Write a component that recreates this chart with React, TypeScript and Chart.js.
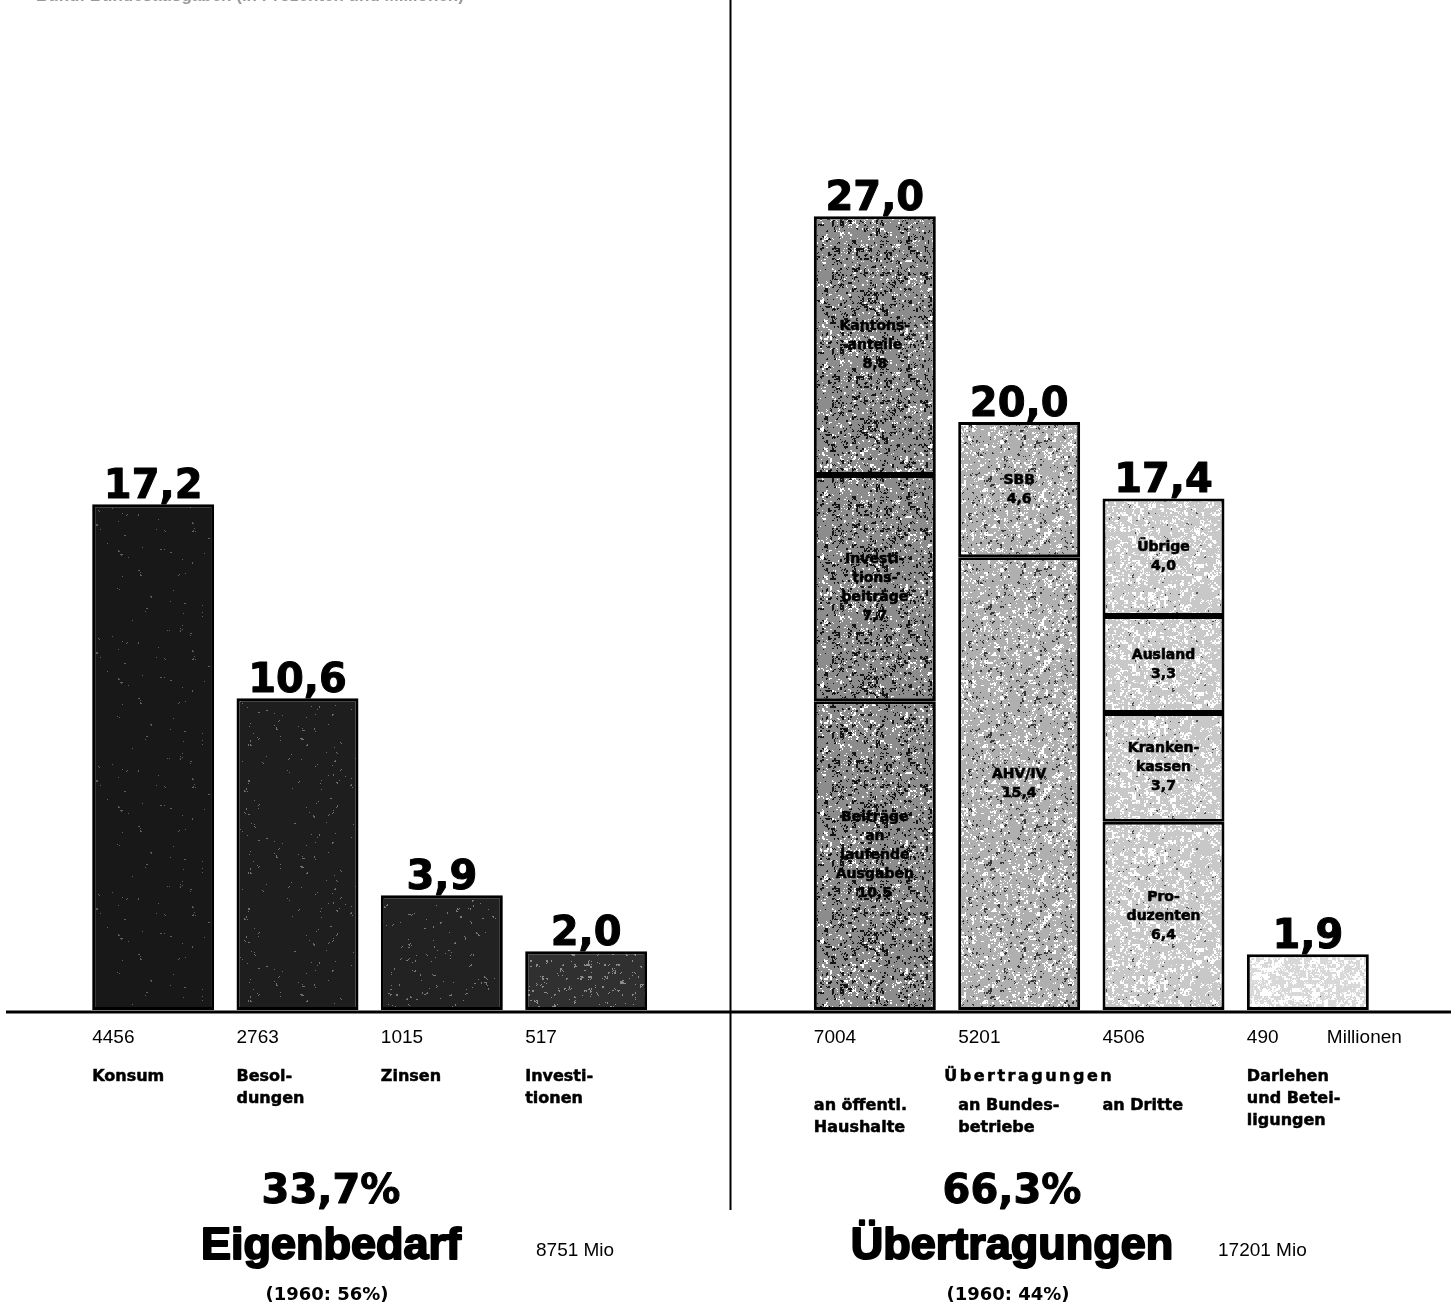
import React, { useEffect, useRef } from "react";
import { Chart, registerables } from "chart.js";

Chart.register(...registerables);

// ---- data ----
const categories = [
  "Konsum",
  "Besoldungen",
  "Zinsen",
  "Investitionen",
  "",
  "an öffentl. Haushalte",
  "an Bundesbetriebe",
  "an Dritte",
  "Darlehen und Beteiligungen",
];
const millions = ["4456", "2763", "1015", "517", "", "7004", "5201", "4506", "490"];
const categoryLines: string[][] = [
  ["Konsum"],
  ["Besol-", "dungen"],
  ["Zinsen"],
  ["Investi-", "tionen"],
  [],
  ["an öffentl.", "Haushalte"],
  ["an Bundes-", "betriebe"],
  ["an Dritte"],
  ["Darlehen", "und Betei-", "ligungen"],
];

// stacked segments, bottom to top (percent of total expenditure)
const seg1Values = [17.2, 10.6, 3.9, 2.0, null, 10.5, 15.4, 6.4, 1.9];
const seg1Names = [null, null, null, null, null, "Beiträge\nan\nlaufende\nAusgaben", "AHV/IV", "Pro-\nduzenten", null];
const seg2Values = [null, null, null, null, null, 7.7, 4.6, 3.7, null];
const seg2Names = [null, null, null, null, null, "Investi-\ntions-\nbeiträge", "SBB", "Kranken-\nkassen", null];
const seg3Values = [null, null, null, null, null, 8.8, null, 3.3, null];
const seg3Names = [null, null, null, null, null, "Kantons-\nanteile", null, "Ausland", null];
const seg4Values = [null, null, null, null, null, null, null, 4.0, null];
const seg4Names = [null, null, null, null, null, null, null, "Übrige", null];

const groupPercent = ["33,7%", "66,3%"];
const groupTitle = ["Eigenbedarf", "Übertragungen"];
const groupMio = ["8751 Mio", "17201 Mio"];
const group1960 = ["(1960: 56%)", "(1960: 44%)"];
const headerText = "Bund: Bundesausgaben (in Prozenten und Millionen)";

// ---- texture (deterministic) ----
// [base gray, dark fraction, light fraction, light gray] per category
const textures: [number, number, number, number][] = [
  [24, 0.0, 0.12, 95],
  [30, 0.0, 0.14, 110],
  [34, 0.0, 0.16, 120],
  [48, 0.0, 0.24, 140],
  [255, 0, 0, 255],
  [140, 0.3, 0.26, 255],
  [175, 0.22, 0.34, 255],
  [200, 0.13, 0.4, 255],
  [216, 0.06, 0.5, 255],
];

function hash(x: number, y: number, seed: number) {
  let h = (Math.imul(x, 374761393) + Math.imul(y, 668265263) + Math.imul(seed, 1013904223)) | 0;
  h = Math.imul(h ^ (h >>> 13), 1274126177);
  h ^= h >>> 16;
  return (h >>> 0) / 4294967296;
}

function makePattern(base: number, dark: number, light: number, lightGray: number, seed: number) {
  const size = 128;
  const c = document.createElement("canvas");
  c.width = size;
  c.height = size;
  const cx = c.getContext("2d")!;
  const img = cx.createImageData(size, size);
  for (let y = 0; y < size; y++) {
    for (let x = 0; x < size; x++) {
      const v =
        0.45 * hash(x >> 2, y >> 2, seed) +
        0.35 * hash(x >> 1, y >> 1, seed + 7) +
        0.2 * hash(x, y, seed + 13);
      let g = base;
      if (dark > 0 && v < dark) g = Math.max(0, base - 120);
      else if (v > 1 - light * 0.9) g = lightGray;
      const i = (y * size + x) * 4;
      img.data[i] = g;
      img.data[i + 1] = g;
      img.data[i + 2] = g;
      img.data[i + 3] = 255;
    }
  }
  cx.putImageData(img, 0, 0);
  return cx.createPattern(c, "repeat")!;
}

const fmt = (v: number) => v.toFixed(1).replace(".", ",");

export default function App() {
  const ref = useRef<HTMLCanvasElement>(null);

  useEffect(() => {
    const canvas = ref.current!;
    const patterns = textures.map((t, i) => makePattern(t[0], t[1], t[2], t[3], i + 3));
    const segNames = [seg1Names, seg2Names, seg3Names, seg4Names];

    const heavy = (ctx: CanvasRenderingContext2D, s: string, x: number, y: number, w: number) => {
      ctx.lineWidth = w;
      ctx.lineJoin = "round";
      ctx.strokeStyle = ctx.fillStyle as string;
      ctx.strokeText(s, x, y);
      ctx.fillText(s, x, y);
    };

    const textPlugin = {
      id: "texts",
      afterDatasetsDraw(chart: any) {
        const ctx: CanvasRenderingContext2D = chart.ctx;
        ctx.save();
        ctx.textAlign = "center";
        ctx.textBaseline = "middle";
        // segment labels
        chart.data.datasets.forEach((ds: any, di: number) => {
          const meta = chart.getDatasetMeta(di);
          meta.data.forEach((el: any, i: number) => {
            const name = segNames[di][i];
            const val = ds.data[i];
            if (!name || val == null) return;
            const lines = (name + "\n" + fmt(val)).split("\n");
            const cy = (el.y + el.base) / 2;
            ctx.font = "bold 14px 'DejaVu Sans', sans-serif";
            const lh = 19;
            lines.forEach((ln: string, k: number) => {
              ctx.fillStyle = "#000";
              heavy(ctx, ln, el.x, cy + (k - (lines.length - 1) / 2) * lh, 0.6);
            });
          });
        });
        ctx.restore();
      },
      afterDraw(chart: any) {
        const ctx: CanvasRenderingContext2D = chart.ctx;
        const xs = chart.scales.x;
        const ys = chart.scales.y;
        const meta0 = chart.getDatasetMeta(0);
        const y0 = ys.getPixelForValue(0);
        ctx.save();
        // header (cut at top edge)
        ctx.fillStyle = "#999";
        ctx.font = "bold 17px 'Liberation Sans', Arial, sans-serif";
        ctx.textAlign = "left";
        ctx.textBaseline = "alphabetic";
        ctx.fillText(headerText, 36, 1);
        // divider
        const xd = xs.getPixelForValue(4);
        ctx.strokeStyle = "#000";
        ctx.lineWidth = 2;
        ctx.beginPath();
        ctx.moveTo(xd, 0);
        ctx.lineTo(xd, 1210);
        ctx.stroke();
        // baseline
        ctx.lineWidth = 3;
        ctx.beginPath();
        ctx.moveTo(6, y0 + 2);
        ctx.lineTo(chart.width, y0 + 2);
        ctx.stroke();

        // totals above bars
        ctx.fillStyle = "#000";
        ctx.textAlign = "center";
        ctx.textBaseline = "alphabetic";
        ctx.font = "bold 40px 'DejaVu Sans', sans-serif";
        for (let i = 0; i < categories.length; i++) {
          const parts = [seg1Values[i], seg2Values[i], seg3Values[i], seg4Values[i]];
          if (parts.every((p) => p == null)) continue;
          const total = parts.reduce((a: number, b) => a + (b ?? 0), 0);
          const x = xs.getPixelForValue(i);
          heavy(ctx, fmt(total), x, ys.getPixelForValue(total) - 6, 1);
        }

        // millions and category names
        ctx.textAlign = "left";
        ctx.textBaseline = "middle";
        for (let i = 0; i < categories.length; i++) {
          const el = meta0.data[i];
          if (!millions[i]) continue;
          const left = xs.getPixelForValue(i) - el.width / 2;
          ctx.font = "19px 'Liberation Sans', Arial, sans-serif";
          ctx.fillText(millions[i], left, 1038);
          ctx.font = "bold 16px 'DejaVu Sans', sans-serif";
          const startY = i >= 5 && i <= 7 ? 1106 : 1077;
          categoryLines[i].forEach((ln, k) => heavy(ctx, ln, left, startY + k * 22, 0.5));
        }
        const lastEl = meta0.data[8];
        ctx.font = "19px 'Liberation Sans', Arial, sans-serif";
        ctx.fillText("Millionen", xs.getPixelForValue(8) - lastEl.width / 2 + 80, 1038);
        // group header Übertragungen
        ctx.textAlign = "center";
        ctx.font = "bold 16px 'DejaVu Sans', sans-serif";
        (ctx as any).letterSpacing = "2.5px";
        heavy(ctx, "Übertragungen", xs.getPixelForValue(6) + 10, 1077, 0.5);
        (ctx as any).letterSpacing = "0px";

        // bottom summaries
        const centers = [331, 1012];
        const mioX = [536, 1218];
        for (let g = 0; g < 2; g++) {
          ctx.textAlign = "center";
          ctx.font = "bold 40px 'DejaVu Sans', sans-serif";
          heavy(ctx, groupPercent[g], centers[g], 1193, 1);
          ctx.font = "bold 45px 'Liberation Sans', Arial, sans-serif";
          heavy(ctx, groupTitle[g], centers[g], 1247, 2);
          ctx.font = "bold 18px 'DejaVu Sans', sans-serif";
          ctx.fillText(group1960[g], centers[g] - 4, 1295);
          ctx.textAlign = "left";
          ctx.font = "19px 'Liberation Sans', Arial, sans-serif";
          ctx.fillText(groupMio[g], mioX[g], 1251);
        }
        ctx.restore();
      },
    };

    const mk = (data: (number | null)[]) => ({
      data,
      backgroundColor: patterns,
      borderColor: "#000",
      borderWidth: 3,
      borderSkipped: false as const,
      barPercentage: 1,
      categoryPercentage: 0.845,
    });

    const chart = new Chart(canvas, {
      type: "bar",
      data: {
        labels: categories,
        datasets: [mk(seg1Values), mk(seg2Values), mk(seg3Values), mk(seg4Values)],
      },
      options: {
        responsive: false,
        animation: false,
        devicePixelRatio: 1,
        layout: { padding: { left: 81, right: 71, top: 128, bottom: 297 } },
        scales: {
          x: { display: false, stacked: true },
          y: { display: false, stacked: true, min: 0, max: 30 },
        },
        plugins: { legend: { display: false }, tooltip: { enabled: false } },
      },
      plugins: [textPlugin],
    } as any);
    return () => chart.destroy();
  }, []);

  return (
    <canvas
      ref={ref}
      width={1451}
      height={1307}
      style={{ position: "absolute", left: 0, top: 0, display: "block", background: "#fff" }}
    />
  );
}
